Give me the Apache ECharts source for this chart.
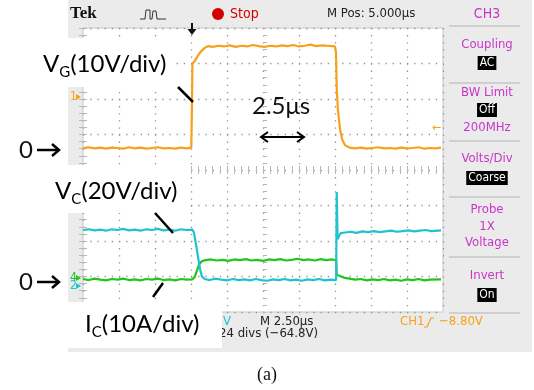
<!DOCTYPE html>
<html>
<head>
<meta charset="utf-8">
<script src="https://cdn.jsdelivr.net/npm/echarts@6/dist/echarts.min.js"></script>
<style>
  html, body { margin: 0; padding: 0; background: #fff; }
  #chart { width: 534px; height: 390px; }
</style>
</head>
<body>
<div id="chart"></div>
<script>
// scope grid: 10 div x 2.5 µs, 8 div vertical (values in divisions)
const timeRange = [0, 25]
const timePerDiv = 2.5
const divRange = [-4, 4]

// V_G (CH1, orange) [µs, div]
const vgTrace = [
  [0, 0.62], [0.4, 0.64], [0.8, 0.61], [1.2, 0.63], [1.6, 0.6], [2.0, 0.63], [2.4, 0.62], [2.8, 0.6],
  [3.2, 0.64], [3.6, 0.61], [4.0, 0.63], [4.4, 0.6], [4.8, 0.62], [5.2, 0.64], [5.6, 0.61], [6.0, 0.62],
  [6.4, 0.6], [6.8, 0.63], [7.2, 0.61], [7.52, 0.63],
  [7.56, 1.6], [7.6, 3.0], [7.75, 3.06], [7.95, 3.2], [8.15, 3.32], [8.45, 3.44], [8.7, 3.49],
  [9.0, 3.47], [9.4, 3.5], [9.8, 3.48], [10.2, 3.51], [10.6, 3.47], [11.0, 3.5], [11.4, 3.48], [11.8, 3.52],
  [12.2, 3.49], [12.6, 3.47], [13.0, 3.5], [13.4, 3.48], [13.8, 3.51], [14.2, 3.49], [14.6, 3.52], [15.0, 3.48],
  [15.4, 3.5], [15.8, 3.53], [16.2, 3.49], [16.6, 3.51], [17.0, 3.5], [17.5, 3.48],
  [17.57, 3.3], [17.62, 2.3], [17.7, 1.7], [17.85, 1.15], [18.0, 0.86], [18.2, 0.7], [18.5, 0.63],
  [18.9, 0.61], [19.3, 0.63], [19.7, 0.6], [20.1, 0.62], [20.5, 0.64], [20.9, 0.61], [21.3, 0.62], [21.7, 0.6],
  [22.1, 0.63], [22.5, 0.61], [22.9, 0.62], [23.3, 0.64], [23.7, 0.6], [24.1, 0.62], [24.5, 0.61], [24.86, 0.63]
]

// V_C (CH2, cyan)
const vcTrace = [
  [0, -1.69], [0.4, -1.67], [0.8, -1.7], [1.2, -1.68], [1.6, -1.71], [2.0, -1.67], [2.4, -1.69], [2.8, -1.66],
  [3.2, -1.7], [3.6, -1.68], [4.0, -1.71], [4.4, -1.67], [4.8, -1.69], [5.2, -1.66], [5.6, -1.7], [6.0, -1.68],
  [6.4, -1.71], [6.8, -1.67], [7.2, -1.69], [7.6, -1.68],
  [7.7, -1.76], [7.85, -2.1], [8.0, -2.48], [8.13, -2.8], [8.26, -3.0], [8.45, -3.07],
  [8.8, -3.1], [9.2, -3.06], [9.6, -3.09], [10.0, -3.11], [10.4, -3.07], [10.8, -3.1], [11.2, -3.08], [11.6, -3.11],
  [12.0, -3.07], [12.4, -3.1], [12.8, -3.12], [13.2, -3.08], [13.6, -3.1], [14.0, -3.07], [14.4, -3.11], [14.8, -3.09],
  [15.2, -3.12], [15.6, -3.08], [16.0, -3.1], [16.4, -3.07], [16.8, -3.11], [17.2, -3.09], [17.58, -3.1],
  [17.62, -0.62], [17.68, -1.95], [17.75, -1.88], [17.9, -1.78], [18.2, -1.76],
  [18.6, -1.74], [19.0, -1.77], [19.4, -1.73], [19.8, -1.75], [20.2, -1.72], [20.6, -1.75], [21.0, -1.73], [21.4, -1.71],
  [21.8, -1.74], [22.2, -1.72], [22.6, -1.7], [23.0, -1.73], [23.4, -1.71], [23.8, -1.69], [24.2, -1.72], [24.86, -1.7]
]

// I_C (green)
const icTrace = [
  [0, -3.07], [0.4, -3.1], [0.8, -3.06], [1.2, -3.09], [1.6, -3.11], [2.0, -3.07], [2.4, -3.09], [2.8, -3.06],
  [3.2, -3.1], [3.6, -3.08], [4.0, -3.11], [4.4, -3.07], [4.8, -3.09], [5.2, -3.06], [5.6, -3.1], [6.0, -3.08],
  [6.4, -3.11], [6.8, -3.07], [7.2, -3.09], [7.6, -3.08],
  [7.75, -3.02], [7.9, -2.85], [8.05, -2.67], [8.25, -2.57], [8.5, -2.54],
  [8.9, -2.52], [9.3, -2.55], [9.7, -2.53], [10.1, -2.56], [10.5, -2.52], [10.9, -2.54], [11.3, -2.51], [11.7, -2.55],
  [12.1, -2.53], [12.5, -2.56], [12.9, -2.52], [13.3, -2.54], [13.7, -2.51], [14.1, -2.55], [14.5, -2.53], [14.9, -2.5],
  [15.3, -2.54], [15.7, -2.52], [16.1, -2.55], [16.5, -2.51], [16.9, -2.54], [17.3, -2.52], [17.58, -2.54],
  [17.62, -2.95], [17.75, -3.0], [18.1, -3.03],
  [18.5, -3.06], [18.9, -3.09], [19.3, -3.07], [19.7, -3.11], [20.1, -3.08], [20.5, -3.1], [20.9, -3.07], [21.3, -3.11],
  [21.7, -3.09], [22.1, -3.12], [22.5, -3.08], [22.9, -3.1], [23.3, -3.07], [23.7, -3.11], [24.1, -3.09], [24.86, -3.08]
]

const ORANGE = '#f7a11a'
const CYAN = '#1ec3cf'
const GREEN = '#22c41f'
const MAGENTA = '#c935c9'
const SCOPE_FONT = '"Liberation Sans Narrow", "DejaVu Sans Condensed", sans-serif'
const NOTE_FONT = 'Lato, "Open Sans", sans-serif'

const chart = echarts.init(document.getElementById('chart'), null, { renderer: 'canvas' })

const tickStyle = { color: '#b8b8b8', width: 1 }
const frameAxis = (extra) => Object.assign({
  type: 'value',
  axisLine: { show: false },
  axisLabel: { show: false },
  axisTick: { show: true, inside: true, length: 4, lineStyle: tickStyle },
  minorTick: { show: true, splitNumber: 5, length: 4, lineStyle: tickStyle },
  splitLine: { show: false },
}, extra)

const xBase = { min: timeRange[0], max: timeRange[1], interval: timePerDiv }
const yBase = { min: divRange[0], max: divRange[1], interval: 1 }

const txt = (text, x, y, o = {}) => ({
  type: 'text', x, y, z: o.z ?? 110,
  style: Object.assign({
    text, fill: '#222', fontSize: 13, fontFamily: SCOPE_FONT,
    align: 'left', verticalAlign: 'middle',
  }, o.style),
})
const line = (pts, color, width, z = 110) => ({
  type: 'polyline', z, shape: { points: pts },
  style: { stroke: color, lineWidth: width, fill: null },
})
const boxTxt = (text, x, y) => txt(text, x, y, {
  style: { fill: '#fff', backgroundColor: '#000', padding: [2, 2, 0, 2], align: 'center', fontSize: 12 },
})
const panelTxt = (text, y) => txt(text, 487, y, { style: { fill: MAGENTA, align: 'center' } })
const sep = (y) => line([[449, y], [520, y]], '#c6c6c6', 1.5, 50)

// annotation labels with subscript
const noteRich = {
  v: { fontSize: 24, fontFamily: NOTE_FONT, lineHeight: 32, color: '#111' },
  s: { fontSize: 15, fontFamily: NOTE_FONT, lineHeight: 13, color: '#111', verticalAlign: 'bottom' },
}
const note = (main, sub, rest, x, y) => ({
  type: 'text', x, y, z: 120,
  style: { text: `{v|${main}}{s|${sub}}{v|${rest}}`, rich: noteRich, align: 'left', verticalAlign: 'middle' },
})
const whiteBox = (x, y, w, h) => ({
  type: 'rect', z: 100, shape: { x, y, width: w, height: h }, style: { fill: '#fff' },
})

chart.setOption({
  animation: false,
  backgroundColor: '#fff',
  grid: {
    left: 83, right: 91, top: 28, height: 284,
    show: true, backgroundColor: '#fff', borderColor: '#c8c8c8', borderWidth: 1,
  },
  xAxis: [
    frameAxis(Object.assign({
      position: 'bottom',
      splitLine: { show: true, lineStyle: { color: '#939393', width: 1.3, type: [1.3, 5.8] } },
    }, xBase)),
    frameAxis(Object.assign({ position: 'top' }, xBase)),
    frameAxis(Object.assign({ position: 'bottom', offset: -142, axisTick: { show: true, inside: true, length: 3, lineStyle: tickStyle } }, xBase)),
  ],
  yAxis: [
    frameAxis(Object.assign({
      position: 'left',
      splitLine: { show: true, lineStyle: { color: '#939393', width: 1.3, type: [1.3, 5.9] } },
    }, yBase)),
    frameAxis(Object.assign({ position: 'right' }, yBase)),
    frameAxis(Object.assign({ position: 'left', offset: -180, axisTick: { show: true, inside: true, length: 3, lineStyle: tickStyle } }, yBase)),
  ],
  series: [
    { name: 'I_C', type: 'line', data: icTrace, showSymbol: false, lineStyle: { color: GREEN, width: 2.2 }, z: 3 },
    { name: 'V_C', type: 'line', data: vcTrace, showSymbol: false, lineStyle: { color: CYAN, width: 2.2 }, z: 4 },
    { name: 'V_G', type: 'line', data: vgTrace, showSymbol: false, lineStyle: { color: ORANGE, width: 2.2 }, z: 5 },
  ],
  graphic: [
    // scope background
    { type: 'rect', z: -10, silent: true, shape: { x: 68, y: 0, width: 464, height: 352 }, style: { fill: '#ebebeb' } },

    // header
    txt('Tek', 70, 14, { style: { fontFamily: '"Liberation Serif", "DejaVu Serif", serif', fontWeight: 'bold', fontSize: 17, fill: '#111' } }),
    line([[140, 19], [145, 19], [146, 10], [150, 10], [150, 19], [152, 19], [153, 11], [156, 11], [157, 19], [166, 19]], '#333', 1),
    { type: 'circle', z: 110, shape: { cx: 218, cy: 14, r: 6 }, style: { fill: '#d40000' } },
    txt('Stop', 230, 14, { style: { fill: '#d40000', fontSize: 14 } }),
    txt('M Pos: 5.000µs', 327, 14, { style: { fontSize: 13 } }),
    txt('CH3', 487, 14, { style: { fill: MAGENTA, align: 'center', fontSize: 14 } }),
    sep(26),

    // right menu
    panelTxt('Coupling', 45), boxTxt('AC', 487, 63), sep(83),
    panelTxt('BW Limit', 93), boxTxt('Off', 487, 110), panelTxt('200MHz', 128), sep(141),
    panelTxt('Volts/Div', 159), boxTxt('Coarse', 487, 178), sep(197),
    panelTxt('Probe', 210), panelTxt('1X', 227), panelTxt('Voltage', 243), sep(257),
    panelTxt('Invert', 276), boxTxt('On', 487, 295), sep(313),

    // trigger marks
    line([[192, 23], [192, 30]], '#111', 2),
    { type: 'polygon', z: 110, shape: { points: [[187.5, 29], [196.5, 29], [192, 35]] }, style: { fill: '#111' } },
    txt('←', 441, 128, { style: { fill: ORANGE, align: 'right', fontSize: 11, fontFamily: 'DejaVu Sans' } }),

    // channel ground markers
    txt('1', 70, 97, { style: { fill: ORANGE, fontSize: 12 } }),
    { type: 'polygon', z: 110, shape: { points: [[76, 94], [81, 97], [76, 100]] }, style: { fill: ORANGE } },
    txt('4', 70, 278, { style: { fill: GREEN, fontSize: 12 } }),
    { type: 'polygon', z: 110, shape: { points: [[76, 275], [81, 278], [76, 281]] }, style: { fill: GREEN } },
    txt('2', 70, 286, { style: { fill: CYAN, fontSize: 12 } }),
    { type: 'polygon', z: 110, shape: { points: [[76, 283], [81, 286], [76, 289]] }, style: { fill: CYAN } },

    // bottom readout
    txt('20.0V', 231, 322, { z: 90, style: { fill: CYAN, align: 'right' } }),
    txt('M 2.50µs', 260, 322),
    txt('1.24 divs (−64.8V)', 318, 334, { z: 90, style: { align: 'right' } }),
    txt('CH1', 400, 322, { style: { fill: ORANGE } }),
    line([[424, 327], [427, 327], [431, 318], [434, 318]], ORANGE, 1.2),
    txt('−8.80V', 439, 322, { style: { fill: ORANGE } }),

    // annotation boxes
    whiteBox(0, 38, 172, 49),
    whiteBox(0, 165, 185, 48),
    whiteBox(68, 302, 154, 46),
    note('V', 'G', '(10V/div)', 43, 64),
    note('V', 'C', '(20V/div)', 55, 191),
    note('I', 'C', '(10A/div)', 85, 324),
    line([[178, 87], [193, 102]], '#000', 2.5, 120),
    line([[155, 213], [173, 233]], '#000', 2.5, 120),
    line([[163, 283], [153, 297]], '#000', 2.5, 120),

    txt('2.5μs', 252, 106, { z: 120, style: { fontFamily: NOTE_FONT, fontSize: 24, fill: '#111' } }),
    line([[261, 137], [304, 137]], '#000', 2, 120),
    line([[268, 132], [261, 137], [268, 142]], '#000', 2, 120),
    line([[297, 132], [304, 137], [297, 142]], '#000', 2, 120),

    txt('0', 19, 150, { z: 120, style: { fontFamily: NOTE_FONT, fontSize: 24, fill: '#111' } }),
    line([[37, 150], [59, 150]], '#000', 2.5, 120),
    line([[52, 144], [59, 150], [52, 156]], '#000', 2.5, 120),
    txt('0', 19, 282, { z: 120, style: { fontFamily: NOTE_FONT, fontSize: 24, fill: '#111' } }),
    line([[37, 282], [59, 282]], '#000', 2.5, 120),
    line([[52, 276], [59, 282], [52, 288]], '#000', 2.5, 120),

    txt('(a)', 267, 375, { z: 120, style: { fontFamily: '"Liberation Serif", "DejaVu Serif", serif', fontSize: 18, fill: '#111', align: 'center' } }),
  ],
})
</script>
</body>
</html>
